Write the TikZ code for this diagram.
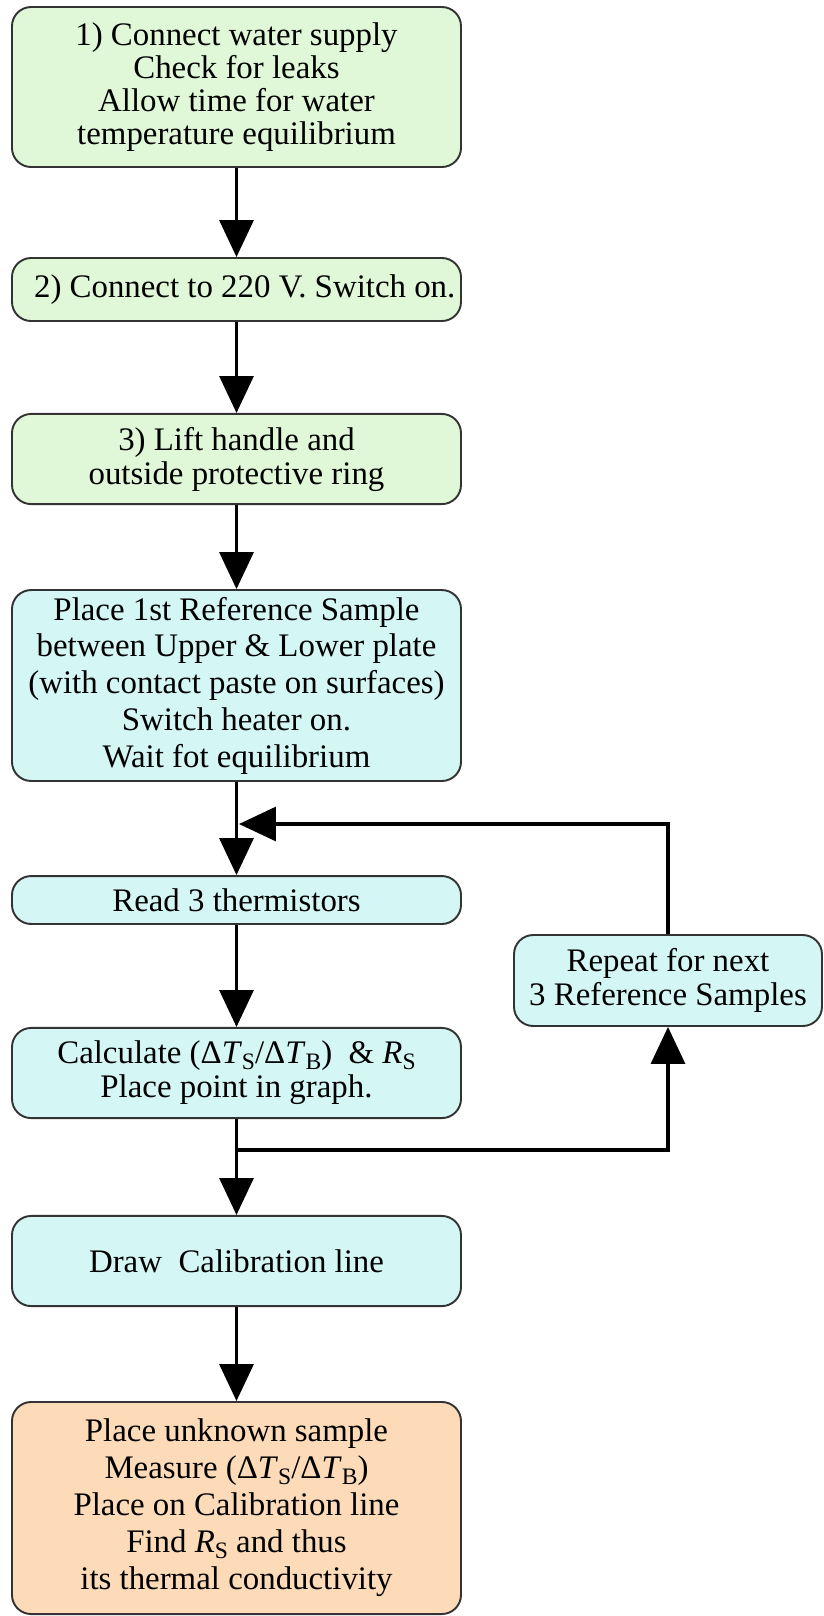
\documentclass[tikz,border=0pt]{standalone}
\usepackage{fontspec}
\setmainfont{Liberation Serif}
\usetikzlibrary{arrows.meta,positioning}

\definecolor{stepgreen}{RGB}{224,248,216}
\definecolor{stepcyan}{RGB}{212,247,245}
\definecolor{steporange}{RGB}{253,219,184}
\definecolor{boxline}{RGB}{51,51,51}

% lowered index, as in T_S
\newcommand{\lowidx}[1]{\raisebox{-0.35ex}{\fontsize{8.6}{8.6}\selectfont #1}}
\newcommand{\dT}[1]{Δ\textit{T}\lowidx{#1}}

\tikzset{
  stepbox/.style={draw=boxline, line width=0.7pt, rounded corners=7pt, align=center,
    inner sep=1pt, font=\fontsize{12}{12.4}\selectfont},
  flow/.style={line width=1.2pt, -{Triangle[length=13.5pt,width=12.4pt]}},
}

\begin{document}
\begin{tikzpicture}[x=0.365pt, y=-0.365pt]
	\useasboundingbox (0,0) rectangle (823,1616);
	% the steps
	\node[stepbox, fill=stepgreen, minimum width=163.9pt, minimum height=58.4pt,
		font=\fontsize{12}{12}\selectfont] (supply) at (236.5,87)
		{1) Connect water supply\\Check for leaks\\Allow time for water\\temperature equilibrium};
	\node[stepbox, fill=stepgreen, minimum width=163.9pt, minimum height=23pt, inner sep=0pt] (power) at (236.5,289.5)
		{\hspace*{6pt}2) Connect to 220 V. Switch on.};
	\node[stepbox, fill=stepgreen, minimum width=163.9pt, minimum height=32.9pt] (handle) at (236.5,459)
		{3) Lift handle and\\outside protective ring};
	\node[stepbox, fill=stepcyan, minimum width=163.9pt, minimum height=69.7pt,
		font=\fontsize{12}{13.4}\selectfont] (place) at (236.5,685.5)
		{Place 1st Reference Sample\\between Upper \& Lower plate\\(with contact paste on surfaces)\\Switch heater on.\\Wait fot equilibrium};
	\node[stepbox, fill=stepcyan, minimum width=163.9pt, minimum height=17.5pt] (read) at (236.5,900)
		{Read 3 thermistors};
	\node[stepbox, fill=stepcyan, minimum width=163.9pt, minimum height=32.9pt] (calc) at (236.5,1073)
		{Calculate (\dT{S}/\dT{B})\ \ \& \textit{R}\lowidx{S}\\Place point in graph.};
	\node[stepbox, fill=stepcyan, minimum width=163.9pt, minimum height=32.9pt] (calib) at (236.5,1261)
		{Draw\ \ Calibration line};
	\node[stepbox, fill=steporange, minimum width=163.9pt, minimum height=77.4pt,
		font=\fontsize{12}{13.5}\selectfont] (unknown) at (236.5,1508)
		{Place unknown sample\\Measure (\dT{S}/\dT{B})\\Place on Calibration line\\Find \textit{R}\lowidx{S} and thus\\its thermal conductivity};
	\node[stepbox, fill=stepcyan, minimum width=112.4pt, minimum height=33.2pt] (repeat) at (668,980.5)
		{Repeat for next\\3 Reference Samples};
	% main flow
	\draw[flow] (supply) -- (power);
	\draw[flow] (power) -- (handle);
	\draw[flow] (handle) -- (place);
	\draw[flow] (place) -- (read);
	\draw[flow] (read) -- (calc);
	\draw[flow] (calc) -- (calib);
	\draw[flow] (calib) -- (unknown);
	% the loop
	\coordinate (loopin) at (239,824);
	\coordinate (loopout) at (236.5,1150);
	\draw[flow] (loopout) -| (repeat);
	\draw[flow] (repeat) |- (loopin);
\end{tikzpicture}
\end{document}
